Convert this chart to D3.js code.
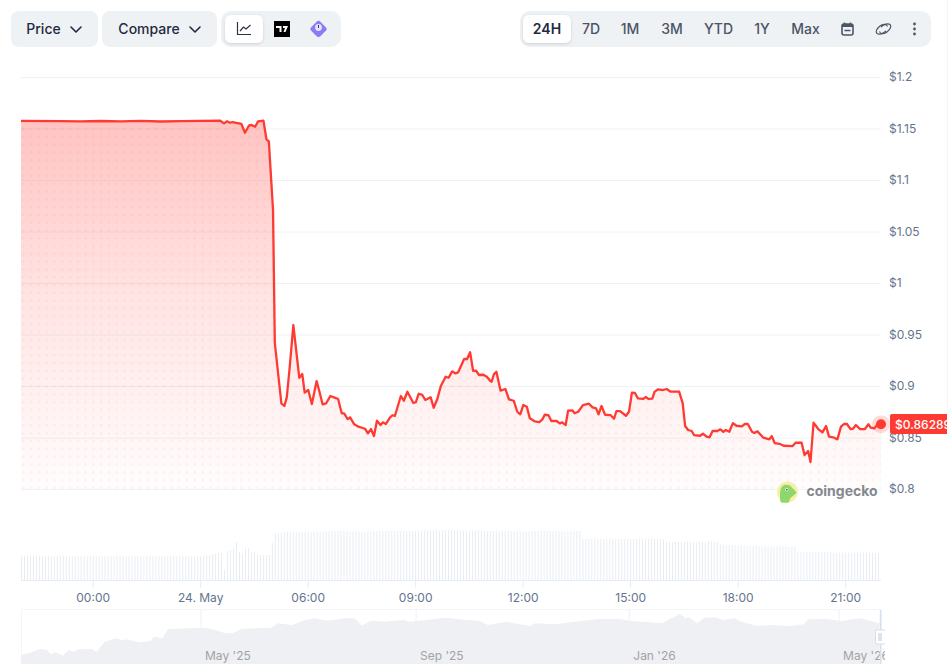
<!DOCTYPE html>
<html>
<head>
<meta charset="utf-8">
<script src="https://cdn.jsdelivr.net/npm/d3@7"></script>
<style>
body { margin: 0; background: #fff; }
svg { display: block; font-family: Inter, "Noto Sans", sans-serif; }
</style>
</head>
<body>
<div id="chart"></div>
<script>
// minutes since 22:00 the day before, and the price at that moment
var minutes = [0,65,100,134,167,201,234,268,301,333,340,345,350,354,369,375,382,386,392,397,406,411,415,422,425,
436,441,445,450,456,466,471,475,481,487,495,499,505,511,518,524,531,537,541,547,551,558,565,576,581,586,591,596,602,606,611,618,622,626,
636,641,647,657,661,666,672,677,686,691,697,703,711,716,722,727,732,742,747,752,757,762,767,774,780,786,788,792,796,803,811,817,
825,831,836,841,847,852,860,868,873,877,883,888,897,902,906,912,916,923,927,933,941,951,957,963,967,972,978,987,993,997,1003,1013,1018,
1023,1028,1033,1042,1046,1051,1057,1061,1067,1075,1081,1088,1102,1108,1112,1117,1123,1127,1137,1142,1148,1153,1158,1166,1171,1176,1180,1186,
1192,1198,1207,1212,1217,1224,1228,1233,1243,1253,1257,1262,1270,1277,1292,1297,1307,1312,1318,1322,1327,1335,1342,1348,1353,1360,1367,
1373,1378,1383,1389,1393,1398,1405,1413,1419,1423,1429,1435,1440];
var prices = [1.1575,1.1572,1.1570,1.1573,1.1569,1.1574,1.1568,1.1572,1.1574,1.1577,1.1550,1.1570,1.1556,1.1563,1.1544,1.1459,1.1531,1.1534,1.1517,1.1570,1.1576,1.1395,1.1376,1.0709,0.9417,
0.8832,0.8806,0.8890,0.9187,0.9592,0.9080,0.9116,0.8935,0.8961,0.8825,0.9048,0.8961,0.8822,0.8832,0.8903,0.8890,0.8874,0.8735,0.8735,0.8679,0.8696,0.8628,0.8605,0.8585,0.8541,0.8582,0.8514,0.8663,0.8621,0.8647,0.8631,0.8696,0.8716,0.8709,
0.8903,0.8857,0.8944,0.8835,0.8842,0.8925,0.8913,0.8864,0.8890,0.8789,0.8871,0.9000,0.9090,0.9080,0.9142,0.9123,0.9133,0.9262,0.9262,0.9327,0.9148,0.9148,0.9107,0.9109,0.9090,0.9048,0.9041,0.9116,0.9138,0.8955,0.8971,0.8871,
0.8857,0.8750,0.8725,0.8815,0.8799,0.8686,0.8657,0.8650,0.8676,0.8721,0.8718,0.8660,0.8660,0.8637,0.8647,0.8621,0.8760,0.8764,0.8735,0.8750,0.8815,0.8828,0.8793,0.8783,0.8725,0.8806,0.8721,0.8718,0.8682,0.8757,0.8757,0.8711,0.8750,
0.8935,0.8932,0.8880,0.8874,0.8893,0.8874,0.8877,0.8945,0.8968,0.8961,0.8971,0.8945,0.8945,0.8832,0.8612,0.8573,0.8563,0.8524,0.8517,0.8537,0.8508,0.8502,0.8563,0.8563,0.8579,0.8556,0.8573,0.8556,
0.8640,0.8614,0.8608,0.8631,0.8631,0.8556,0.8543,0.8560,0.8498,0.8482,0.8514,0.8446,0.8439,0.8420,0.8417,0.8449,0.8449,0.8330,0.8369,0.8262,0.8643,0.8582,0.8550,0.8611,0.8508,0.8502,0.8482,
0.8605,0.8631,0.8631,0.8582,0.8585,0.8621,0.8582,0.8582,0.8628,0.8595,0.8589,0.8637,0.86289];

// one bar per 5 minutes
var volumes = [24,24,24.5,24,24,24.5,24,24,24,24.5,24,24,
24,24,24.5,24,24,24,24,24.5,24,24,24,24,
24,24,24,24,24,24,24,24,24,24,24,24,
24,24,24,24,24,24,24,24,24,24,24,24,
24,24,24,24,24,24,24,24,24,24,24,24,
24,24,25,25,26,26,27,27,10,29,30,32,
38,28,26,32,32,28,28,25,25,25,25,25,
37,46,47,47,48,48,48,48,48,48,48,48,
48,48,48.5,48.5,48.5,48.5,49,49,49,49,49,49,
49,49,48.5,48.5,48.5,48.5,48.5,48.5,48.5,48.5,49,49,
49,49,49,49,49,49,49,49,49,49,49,49,
49,49.5,49.5,49.5,49.5,49.5,49.5,49.5,49.5,50,50,50,
50,50,50,49.5,49.5,49.5,49.5,49.5,49.5,49.5,49,49,
49,49,49,49.5,49.5,49,49,49,49,49,48.5,48.5,
48.5,48.5,48.5,49,49,49,49,49,49,49,49,49,
49,49,48.5,48.5,48.5,49,49,49,41,41,41,41,
41.5,41.5,41.5,41,41,41.5,41.5,41,41,41,41,41.5,
41,41,41.5,41.5,41.5,41.5,41.5,41.5,41,41,41,41,
38,38,38,38,38,38,38,38.5,38,38,38,38,
38,38,38.5,38.5,38,38,36,35,35,35,35,35,
34.5,34.5,34.5,34,34,34,34,33.5,33.5,33.5,33.5,33.5,
33.5,33.5,33.5,33.5,33.5,33,33,33,28,28,28,28,
28,28,28,28,28,28,28,28,27.5,27.5,27.5,27.5,
27.5,27.5,27.5,27.5,27.5,27.5,27.5,27.5,27,27,27,27];

// overview strip: days since 18 Jan 2025
var navDays = [0,5,11,15,17,20,24,27,30,33,41,43,48,54,58,60,68,74,76,81,84,96,105,111,117,121,126,134,143,147,155,161,168,175,186,191,195,200,208,219,222,228,243,255,262,267,278,291,294,306,314,331,343,348,363,367,370,377,380,382,387,391,397,402,408,413,421,430,440,448,450,461,469,480,491];
var navValues = [9,11.3,15,14,9.7,11.7,8.3,14,12.3,14.7,14.7,11.7,22.3,25.7,23.7,24.7,21.7,23,27.3,25.7,34.7,35.7,36.3,34,30.7,30.7,35,35.7,36.3,40.7,39,43.3,45.7,43.3,45.7,45.7,38.3,43.3,42.3,44,42.3,43.3,46.3,44,43.3,39,42.3,38,40.7,39.7,41.7,45,45,43.3,41.3,40.7,44,50,45.7,46.7,40.7,46.3,46.7,44,45.7,41.7,38.3,39,38,39.7,44.7,45,43,45.7,40.7];

var yTicks = [0.8,0.85,0.9,0.95,1,1.05,1.1,1.15,1.2];
var xTicks = [120,300,480,660,840,1020,1200,1380];
var xLabels = ["00:00","24. May","06:00","09:00","12:00","15:00","18:00","21:00"];
var navTicks = ["2025-05-01","2025-09-01","2026-01-01","2026-05-01"];
var navLabels = ["May '25","Sep '25","Jan '26","May '26"];
var rangeLabels = ["24H","7D","1M","3M","YTD","1Y","Max"];
var lastPrice = "$0.86289";

var red = "#ff3a33", grid = "#eff2f5", axisText = "#64748d", pill = "#eff2f5", dark = "#1f2a3f";

var width = 951, height = 668;
var svg = d3.select("#chart").append("svg").attr("width", width).attr("height", height);
var defs = svg.append("defs");

var left = 21, right = 881;
var x = d3.scaleLinear().domain([0, 1440]).range([left, right]);
var y = d3.scaleLinear().domain([0.8, 1.2]).range([489, 77]);
var yVol = d3.scaleLinear().domain([0, 60]).range([580, 520]);
var xNav = d3.scaleTime().domain([new Date(2025, 0, 18), new Date(2026, 4, 25)]).range([left, right]);
var yNav = d3.scaleLinear().domain([0, 55]).range([664, 609]);
var dayToDate = function(d) { return new Date(2025, 0, 18 + d); };

var mainData = minutes.map(function(m, i) { return {m: m, p: prices[i]}; });

// fills
var grad = defs.append("linearGradient").attr("id", "fade").attr("x1", 0).attr("y1", 0).attr("x2", 0).attr("y2", 1);
grad.append("stop").attr("offset", "0%").attr("stop-color", red).attr("stop-opacity", 0.3);
grad.append("stop").attr("offset", "50%").attr("stop-color", red).attr("stop-opacity", 0.13);
grad.append("stop").attr("offset", "100%").attr("stop-color", red).attr("stop-opacity", 0.01);

var dots = defs.append("pattern").attr("id", "dots").attr("patternUnits", "userSpaceOnUse")
  .attr("x", 261.5).attr("y", 453.2).attr("width", 7.8).attr("height", 7.8);
dots.append("circle").attr("cx", 3.5).attr("cy", 3.5).attr("r", 1.3).attr("fill", red).attr("fill-opacity", 0.07);

defs.append("clipPath").attr("id", "navClip").append("rect").attr("x", left).attr("y", 600).attr("width", 864).attr("height", 68);
defs.append("clipPath").attr("id", "tagClip").append("rect").attr("x", 885).attr("y", 405).attr("width", 62).attr("height", 40);

// right edge of the panel
svg.append("line").attr("x1", 947.5).attr("x2", 947.5).attr("y1", 0).attr("y2", 410).attr("stroke", "#f4f5f7");

// y axis with grid
var yAxis = svg.append("g").attr("transform", "translate(" + right + ",0)")
  .call(d3.axisRight(y).tickValues(yTicks).tickSize(-(right - left)).tickPadding(8).tickFormat(function(d) { return "$" + d; }));
yAxis.select(".domain").remove();
yAxis.selectAll("line").attr("stroke", grid);
yAxis.selectAll("text").attr("fill", axisText).style("font-size", "12px").style("font-family", "Inter");

// price area + line
var area = d3.area().x(function(d) { return x(d.m); }).y0(y(0.8)).y1(function(d) { return y(d.p); });
var line = d3.line().x(function(d) { return x(d.m); }).y(function(d) { return y(d.p); });

svg.append("path").datum(mainData).attr("d", area).attr("fill", "url(#fade)");
svg.append("path").datum(mainData).attr("d", area).attr("fill", "url(#dots)");
svg.append("path").datum(mainData).attr("d", line).attr("fill", "none").attr("stroke", red)
  .attr("stroke-width", 2.3).attr("stroke-linejoin", "round");

// current price marker and tag
var last = mainData[mainData.length - 1];
svg.append("circle").attr("cx", x(last.m)).attr("cy", y(last.p)).attr("r", 9).attr("fill", red).attr("fill-opacity", 0.18);
svg.append("circle").attr("cx", x(last.m)).attr("cy", y(last.p)).attr("r", 5).attr("fill", red);
var tag = svg.append("g").attr("clip-path", "url(#tagClip)");
tag.append("rect").attr("x", 890).attr("y", 414).attr("width", 70).attr("height", 20).attr("rx", 2).attr("fill", red);
tag.append("text").attr("x", 895).attr("y", 428.5).attr("fill", "#fff").style("font-size", "12px").style("font-weight", 500).text(lastPrice);

// watermark
var wm = svg.append("g").attr("transform", "translate(787.5,492)");
wm.append("circle").attr("r", 10.5).attr("fill", "#f9eea8");
wm.append("path").attr("d", "M-7,10 C-8,3 -7.5,-4 -5,-6 C-2,-8 2,-7.5 4,-5 C6,-3 8.5,-1 9,1 C7,3 5,4 3,6 C2,8 1.5,10 1,10.5 C-2,11 -5,11 -7,10 Z").attr("fill", "#8cd86b");
wm.append("circle").attr("cx", -0.7).attr("cy", -2.3).attr("r", 1.6).attr("fill", "#fff");
wm.append("circle").attr("cx", -0.7).attr("cy", -2.3).attr("r", 0.9).attr("fill", "#4a5a50");
svg.append("text").attr("x", 806.5).attr("y", 496).attr("fill", "#85898f")
  .style("font-size", "14px").style("font-weight", 700).text("coingecko");

// volume
svg.selectAll(".vol").data(volumes).enter().append("rect").attr("class", "vol")
  .attr("x", function(d, i) { return x(i * 5); })
  .attr("y", function(d) { return yVol(d); })
  .attr("width", 1)
  .attr("height", function(d) { return yVol(0) - yVol(d); })
  .attr("fill", "#e9eef4");

// x axis
var xAxis = svg.append("g").attr("transform", "translate(0,580)")
  .call(d3.axisBottom(x).tickValues(xTicks).tickSize(8).tickPadding(5)
    .tickFormat(function(d, i) { return xLabels[i]; }));
xAxis.select(".domain").attr("stroke", "#e6ecf4").attr("d", "M" + left + ",0.5H" + right);
xAxis.selectAll("line").attr("stroke", "#e6ecf4");
xAxis.selectAll("text").attr("fill", axisText).style("font-size", "12px").style("font-family", "Inter");

// overview strip
var nav = svg.append("g").attr("clip-path", "url(#navClip)");
nav.append("rect").attr("x", left + 0.5).attr("y", 609.5).attr("width", right - left).attr("height", 54)
  .attr("fill", "none").attr("stroke", "#f4f5f7");
nav.selectAll(".navTick").data(navTicks).enter().append("line").attr("class", "navTick")
  .attr("x1", function(d) { return xNav(new Date(d + "T00:00")); })
  .attr("x2", function(d) { return xNav(new Date(d + "T00:00")); })
  .attr("y1", 610).attr("y2", 664).attr("stroke", "#eef1f5");
var navArea = d3.area().x(function(d, i) { return xNav(dayToDate(navDays[i])); }).y0(yNav(0)).y1(function(d) { return yNav(d); });
nav.append("path").datum(navValues).attr("d", navArea).attr("fill", "#eef0f3");
nav.selectAll(".navLabel").data(navLabels).enter().append("text").attr("class", "navLabel")
  .attr("x", function(d, i) { return xNav(new Date(navTicks[i] + "T00:00")) + 4; })
  .attr("y", 660).attr("fill", "#a3a3a3").style("font-size", "12px").text(function(d) { return d; });
// right handle
nav.append("line").attr("x1", right - 0.5).attr("x2", right - 0.5).attr("y1", 610).attr("y2", 664).attr("stroke", "#d6e1f0").attr("stroke-width", 1.5);
nav.append("rect").attr("x", 875.5).attr("y", 630).attr("width", 10).attr("height", 14).attr("rx", 1.5).attr("fill", "#fff").attr("stroke", "#d4dfee");
nav.append("rect").attr("x", 878).attr("y", 633).attr("width", 4).attr("height", 8).attr("fill", "#dfe3e8");

// toolbars
function box(x0, x1, y0, y1, fill, r) {
  return svg.append("rect").attr("x", x0).attr("y", y0).attr("width", x1 - x0).attr("height", y1 - y0).attr("rx", r).attr("fill", fill);
}
function chevron(cx) {
  svg.append("path").attr("d", "M" + (cx - 5) + ",27 L" + cx + ",32 L" + (cx + 5) + ",27")
    .attr("fill", "none").attr("stroke", dark).attr("stroke-width", 1.6).attr("stroke-linecap", "round").attr("stroke-linejoin", "round");
}
function label(txt, cx, color, weight) {
  svg.append("text").attr("x", cx).attr("y", 34).attr("text-anchor", "middle").attr("fill", color)
    .style("font-size", "14px").style("font-weight", weight).text(txt);
}
defs.append("filter").attr("id", "soft").attr("x", "-20%").attr("y", "-20%").attr("width", "140%").attr("height", "150%")
  .append("feDropShadow").attr("dx", 0).attr("dy", 1).attr("stdDeviation", 1.5).attr("flood-color", "#000").attr("flood-opacity", 0.14);

box(11, 98, 11, 47, pill, 8);
label("Price", 43.5, dark, 500);
chevron(76);
box(102, 217, 11, 47, pill, 8);
label("Compare", 149, dark, 500);
chevron(195);
box(221, 341, 11, 47, pill, 10);
box(225, 263, 15, 43, "#fff", 6).attr("filter", "url(#soft)");

// line chart icon
svg.append("path").attr("d", "M237.5,22 V34.5 H251").attr("fill", "none").attr("stroke", "#2b3444").attr("stroke-width", 1.2);
svg.append("path").attr("d", "M240,31 L243.5,27 L246,29 L250.5,25").attr("fill", "none").attr("stroke", "#2b3444").attr("stroke-width", 1.2);
// tradingview icon
svg.append("rect").attr("x", 274).attr("y", 21).attr("width", 16).attr("height", 16).attr("fill", "#000");
svg.append("path").attr("d", "M276,26 H281.5 V32 H279.5 V28 H276 Z M283,26 H288 L285.5,32 H283.5 L285,28 H283 Z").attr("fill", "#fff");
// diamond icon
svg.append("rect").attr("x", 312).attr("y", 22.5).attr("width", 13).attr("height", 13).attr("rx", 3)
  .attr("transform", "rotate(45 318.5 29)").attr("fill", "#8b7cf6");
svg.append("circle").attr("cx", 318.5).attr("cy", 27.5).attr("r", 3.4).attr("fill", "#e7e3fd");
svg.append("line").attr("x1", 318.5).attr("x2", 318.5).attr("y1", 25).attr("y2", 28).attr("stroke", "#3b3486").attr("stroke-width", 1);

box(520, 931, 11, 47, pill, 10);
box(523, 571, 15, 43, "#fff", 6).attr("filter", "url(#soft)");
var rangeX = [547, 591, 630, 672, 718.5, 762, 805.5];
rangeLabels.forEach(function(d, i) {
  label(d, rangeX[i], i == 0 ? dark : "#4b5565", i == 0 ? 600 : 500);
});

// calendar icon
svg.append("rect").attr("x", 842).attr("y", 24).attr("width", 11).attr("height", 11).attr("rx", 2)
  .attr("fill", "none").attr("stroke", "#4b5565").attr("stroke-width", 1.6);
svg.append("rect").attr("x", 842).attr("y", 24).attr("width", 11).attr("height", 3).attr("fill", "#4b5565");
svg.append("path").attr("d", "M844.5,22.5 V25 M850.5,22.5 V25 M844.5,30.5 H850.5").attr("stroke", "#4b5565").attr("stroke-width", 1.4);
// link icon
svg.append("path").attr("d", "M881,27 C884,24 888,23 890,24.5 C892,26.5 890,29.5 887,32 C884,34.5 880,34 879.5,31.5")
  .attr("fill", "none").attr("stroke", "#4b5565").attr("stroke-width", 1.2);
svg.append("path").attr("d", "M886,31 C883,34 879,35 877,33.5 C875,31.5 877,28.5 880,26 C883,23.5 887,24 887.5,26.5")
  .attr("fill", "none").attr("stroke", "#4b5565").attr("stroke-width", 1.2);
// more icon
svg.selectAll(".more").data([24, 29, 34]).enter().append("circle").attr("class", "more")
  .attr("cx", 914.5).attr("cy", function(d) { return d; }).attr("r", 1.4).attr("fill", "#4b5565");
</script>
</body>
</html>
